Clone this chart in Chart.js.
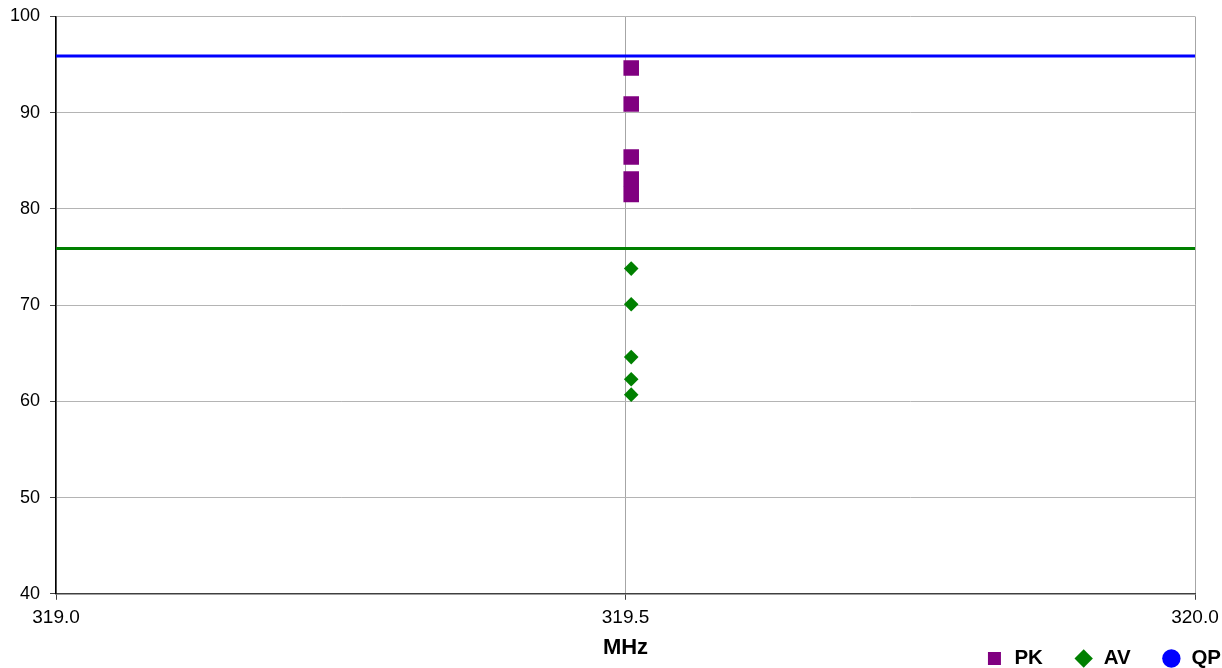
<!DOCTYPE html>
<html>
<head>
<meta charset="utf-8">
<script src="https://cdn.jsdelivr.net/npm/chart.js@4/dist/chart.umd.min.js"></script>
<style>
  html, body { margin: 0; padding: 0; background: #fff; }
  #wrap { width: 1222px; height: 668px; position: relative; }
</style>
</head>
<body>
<div id="wrap"><canvas id="chart"></canvas></div>
<script>
// Measured emission levels (dBµV) at the test frequency (MHz)
const pkFreq  = [319.505, 319.505, 319.505, 319.505, 319.505];
const pkLevel = [94.65, 90.9, 85.4, 83.1, 81.5];
const avFreq  = [319.505, 319.505, 319.505, 319.505, 319.505];
const avLevel = [73.8, 70.1, 64.6, 62.3, 60.7];
const qpFreq  = [];
const qpLevel = [];

// Limit lines across the displayed span
const limitFreq  = [319.0, 320.0];
const qpLimit    = [95.9, 95.9];
const avLimit    = [75.9, 75.9];

// Axis ranges and tick values
const freqTicks  = [319.0, 319.5, 320.0];
const levelTicks = [40, 50, 60, 70, 80, 90, 100];
const xTitle = 'MHz';

const toPoints = (xs, ys) => xs.map((x, i) => ({ x, y: ys[i] }));

const FONT = "'Liberation Sans', Arial, sans-serif";

// Legend row sits on the bottom line, beside the axis title
const legendRow = {
  id: 'legendRow',
  afterLayout(chart) {
    const lg = chart.legend;
    if (!lg) return;
    const pad = lg.options.labels.padding;
    lg.top = 648.25 - pad;
    lg.bottom = chart.height;
    lg.height = lg.bottom - lg.top;
    lg.left = 0;
    lg.right = 1221 + pad;
    lg.width = lg.right - lg.left;
  }
};

new Chart(document.getElementById('chart'), {
  type: 'scatter',
  data: {
    datasets: [
      {
        label: 'PK',
        data: toPoints(pkFreq, pkLevel),
        pointStyle: 'rect',
        pointRadius: 11,
        pointHoverRadius: 11,
        backgroundColor: '#800080',
        borderColor: '#800080',
        borderWidth: 0,
        order: 1
      },
      {
        label: 'AV',
        data: toPoints(avFreq, avLevel),
        pointStyle: 'rectRot',
        pointRadius: 7.3,
        pointHoverRadius: 7.3,
        backgroundColor: '#008000',
        borderColor: '#008000',
        borderWidth: 0,
        order: 2
      },
      {
        label: 'QP',
        data: toPoints(qpFreq, qpLevel),
        pointStyle: 'circle',
        pointRadius: 7,
        backgroundColor: '#0000ff',
        borderColor: '#0000ff',
        borderWidth: 0,
        order: 3
      },
      {
        label: 'QP limit',
        data: toPoints(limitFreq, qpLimit),
        showLine: true,
        borderColor: '#0000ff',
        backgroundColor: '#0000ff',
        borderWidth: 3,
        pointRadius: 0,
        order: 4
      },
      {
        label: 'AV limit',
        data: toPoints(limitFreq, avLimit),
        showLine: true,
        borderColor: '#008000',
        backgroundColor: '#008000',
        borderWidth: 3,
        pointRadius: 0,
        order: 5
      }
    ]
  },
  options: {
    responsive: true,
    maintainAspectRatio: false,
    animation: false,
    events: [],
    layout: { padding: { left: 0, right: 27, top: 16.5, bottom: 0 } },
    scales: {
      x: {
        type: 'linear',
        min: freqTicks[0],
        max: freqTicks[freqTicks.length - 1],
        afterBuildTicks: (axis) => { axis.ticks = freqTicks.map(v => ({ value: v })); },
        afterFit: (axis) => { axis.paddingLeft = 0; axis.paddingRight = 0; },
        ticks: {
          callback: (v) => Number(v).toFixed(1),
          color: '#000',
          font: { family: FONT, size: 19 },
          padding: 6.3,
          maxRotation: 0,
          autoSkip: false
        },
        grid: { color: '#a6a6a6', lineWidth: 1, tickLength: 6, tickColor: '#404040' },
        border: { color: '#404040', width: 1.5 },
        title: {
          display: true,
          text: xTitle,
          color: '#000',
          font: { family: FONT, size: 22, weight: 'bold' },
          padding: { top: -0.4, bottom: 5.8 }
        }
      },
      y: {
        type: 'linear',
        min: levelTicks[0],
        max: levelTicks[levelTicks.length - 1],
        afterBuildTicks: (axis) => { axis.ticks = levelTicks.map(v => ({ value: v })); },
        afterFit: (axis) => { axis.paddingTop = 0; },
        ticks: {
          color: '#000',
          font: { family: FONT, size: 18 },
          padding: 10
        },
        grid: { color: '#b4b4b4', lineWidth: 1, tickLength: 6, tickColor: '#404040' },
        border: { color: '#000', width: 1.5 }
      }
    },
    plugins: {
      tooltip: { enabled: false },
      legend: {
        display: true,
        position: 'bottom',
        align: 'end',
        maxHeight: 1,
        labels: {
          usePointStyle: true,
          boxWidth: 19.5,
          boxHeight: 13,
          padding: 31,
          color: '#000',
          font: { family: FONT, size: 20.5, weight: 'bold' },
          filter: (item) => item.datasetIndex < 3
        }
      }
    }
  },
  plugins: [legendRow]
});
</script>
</body>
</html>
